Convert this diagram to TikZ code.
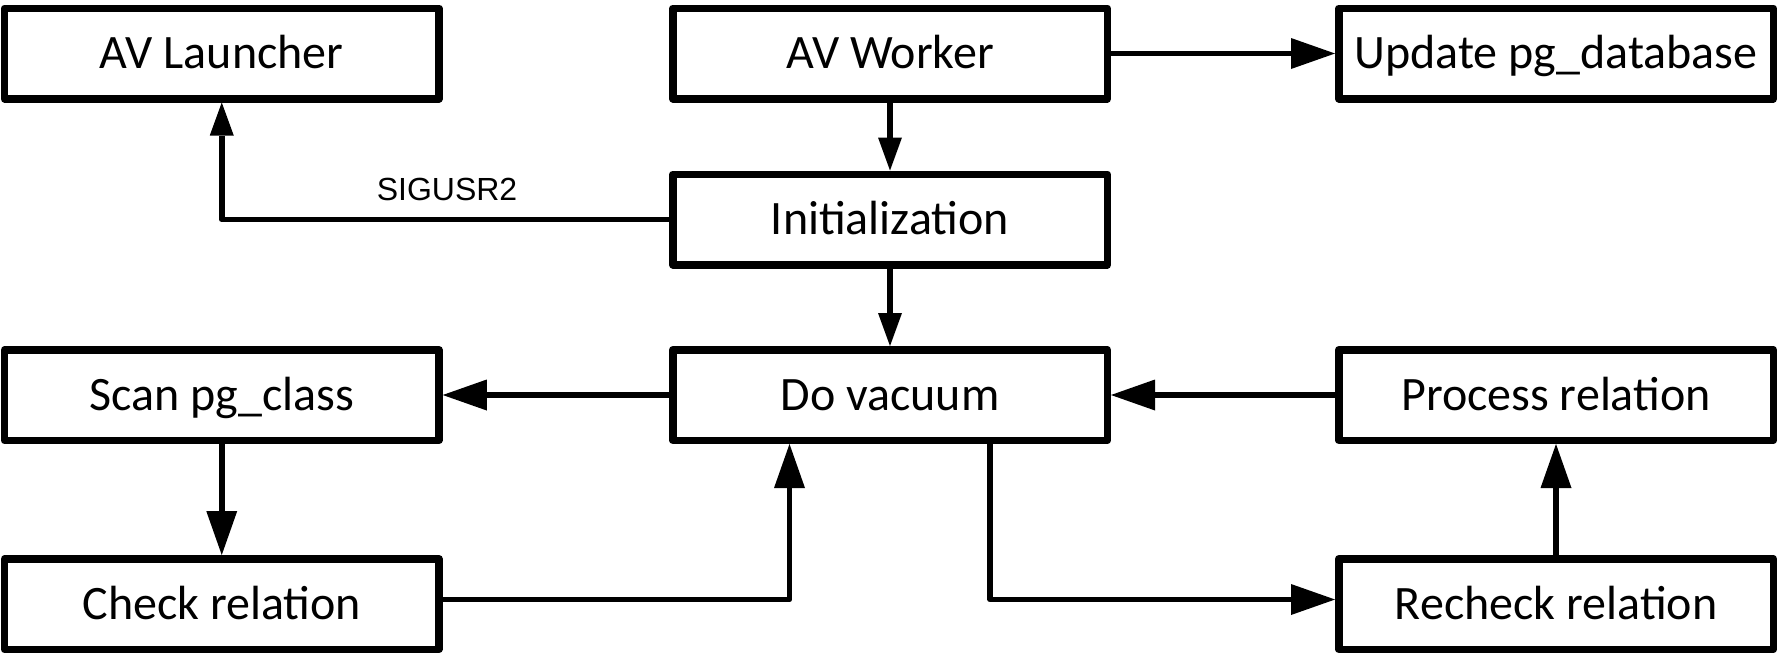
\documentclass[tikz,border=0pt]{standalone}
\usepackage{fontspec}
\setmainfont{Carlito}
\newfontfamily\sigfont{Liberation Sans}
\usetikzlibrary{arrows.meta}
\tikzset{
  box/.style={draw, line width=7.5pt, line join=round, minimum width=434.5pt,
    minimum height=90.5pt, inner sep=0pt, font=\fontsize{48}{57}\selectfont,
    text height=30.3pt, text depth=0pt},
  conn/.style={line width=5.5pt, line join=round},
  bigarrow/.style={conn, -{Triangle[length=44pt,width=31pt,line width=0pt]}},
  smallarrow/.style={conn, -{Triangle[length=33pt,width=24pt,line width=0pt]}},
  sig/.style={inner sep=0pt, font=\sigfont\fontsize{32}{38}\selectfont},
}
\begin{document}
\begin{tikzpicture}[x=1pt,y=-1pt]
\useasboundingbox[fill=white] (0,0) rectangle (1777,654);
\node[box] (launcher) at (221.75,53.5) {AV Launcher};
\node[box] (worker) at (890,53.5) {AV Worker};
\node[box] (upd) at (1556,53.5) {Update pg\_database};
\node[box] (init) at (890,219.5) {Initialization};
\node[box] (scan) at (221.75,395) {Scan pg\_class};
\node[box] (dov) at (890,395) {Do vacuum};
\node[box] (proc) at (1556,395) {Process relation};
\node[box] (check) at (221.75,604) {Check relation};
\node[box] (recheck) at (1556,604) {Recheck relation};

\draw[smallarrow] (worker.south) -- (init.north);
\draw[bigarrow] (worker.east) -- (upd.west);
\draw[smallarrow] (init.west) -| (launcher.south);
\node[sig] (siglabel) at (447,189.6) {SIGUSR2};
\draw[smallarrow] (init.south) -- (dov.north);
\draw[bigarrow] (dov.west) -- (scan.east);
\draw[bigarrow] (scan.south) -- (check.north);
\draw[bigarrow] ([yshift=4.5pt]check.east) -| ([xshift=-100.5pt]dov.south);
\draw[bigarrow] ([xshift=100pt]dov.south) |- ([yshift=4.5pt]recheck.west);
\draw[bigarrow] (recheck.north) -- (proc.south);
\draw[bigarrow] (proc.west) -- (dov.east);
\end{tikzpicture}
\end{document}
